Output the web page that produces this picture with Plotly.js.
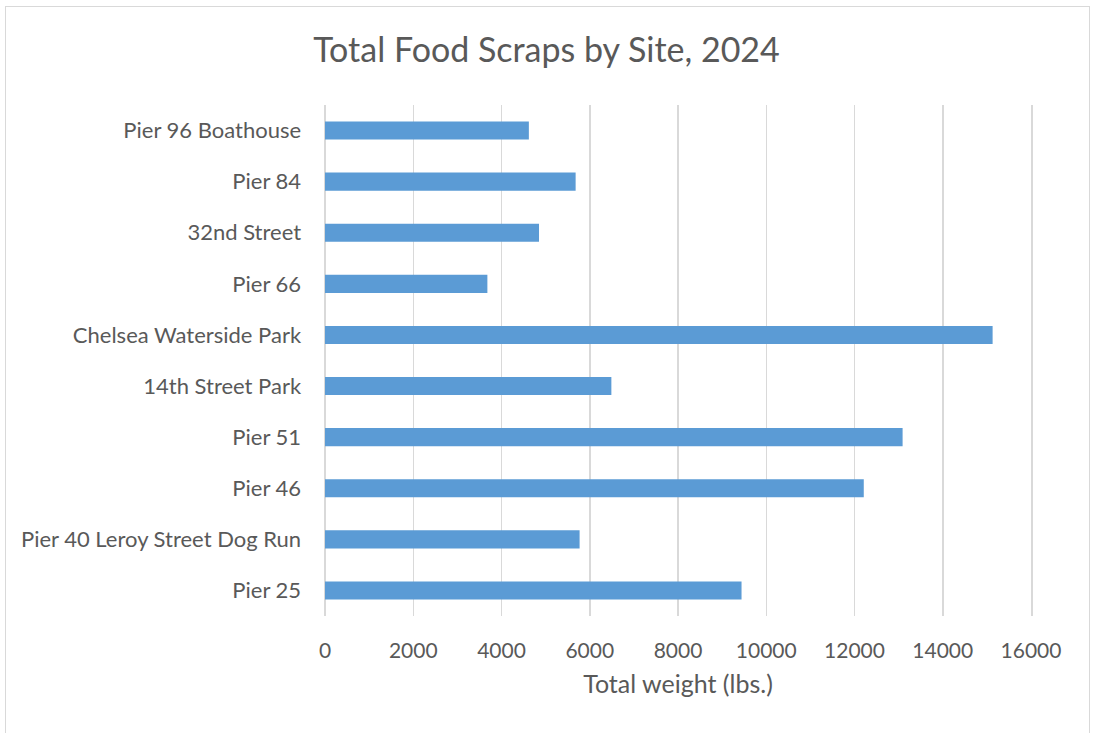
<!DOCTYPE html>
<html>
<head>
<meta charset="utf-8">
<script src="https://cdn.plot.ly/plotly-3.0.1.min.js"></script>
<style>
  html, body { margin: 0; padding: 0; background: #ffffff; }
  #chart { position: absolute; left: 0; top: 0; width: 1093px; height: 733px; }
  #frame { position: absolute; left: 5px; top: 6px; width: 1085px; height: 740px;
           border: 1px solid #d9d9d9; pointer-events: none; box-sizing: border-box; }
</style>
</head>
<body>
<div id="chart"></div>
<div id="frame"></div>
<script>
// Categories listed bottom to top
const sites = [
  "Pier 25",
  "Pier 40 Leroy Street Dog Run",
  "Pier 46",
  "Pier 51",
  "14th Street Park",
  "Chelsea Waterside Park",
  "Pier 66",
  "32nd Street",
  "Pier 84",
  "Pier 96 Boathouse"
];
const totalWeightLbs = [9440, 5770, 12210, 13090, 6490, 15130, 3680, 4850, 5680, 4620];
const xTickValues = [0, 2000, 4000, 6000, 8000, 10000, 12000, 14000, 16000];

const textColor = "#595959";
const fontFamily = "Lato, 'Open Sans', 'Noto Sans', sans-serif";
const gridColor = "#d9d9d9";

const data = [{
  type: "bar",
  orientation: "h",
  y: sites,
  x: totalWeightLbs,
  marker: { color: "#5b9bd5", line: { width: 0 } },
  hoverinfo: "x+y"
}];

const layout = {
  width: 1093,
  height: 733,
  paper_bgcolor: "#ffffff",
  plot_bgcolor: "#ffffff",
  margin: { l: 325, r: 62, t: 105, b: 117, pad: 0 },
  bargap: 0.645,
  showlegend: false,
  title: {
    text: "Total Food Scraps by Site, 2024",
    font: { family: fontFamily, size: 34, color: textColor },
    x: 0.5, xanchor: "center",
    y: 1 - 50 / 733, yanchor: "middle", yref: "container"
  },
  xaxis: {
    range: [0, 16000],
    tickvals: xTickValues,
    ticktext: xTickValues.map(String),
    showgrid: true,
    gridcolor: gridColor,
    gridwidth: 1.5,
    zeroline: true,
    zerolinecolor: gridColor,
    zerolinewidth: 1.5,
    showline: false,
    ticks: "",
    ticklabelstandoff: 20,
    tickfont: { family: fontFamily, size: 21, color: textColor },
    fixedrange: true,
    title: {
      text: "Total weight (lbs.)",
      font: { family: fontFamily, size: 25, color: textColor },
      standoff: 14
    }
  },
  yaxis: {
    type: "category",
    categoryorder: "array",
    categoryarray: sites,
    showgrid: false,
    zeroline: false,
    showline: true,
    mirror: true,
    linecolor: gridColor,
    linewidth: 1.5,
    ticks: "",
    ticklabelstandoff: 18,
    tickfont: { family: fontFamily, size: 22, color: textColor },
    fixedrange: true
  }
};

Plotly.newPlot("chart", data, layout, { displayModeBar: false, staticPlot: true });
</script>
</body>
</html>
